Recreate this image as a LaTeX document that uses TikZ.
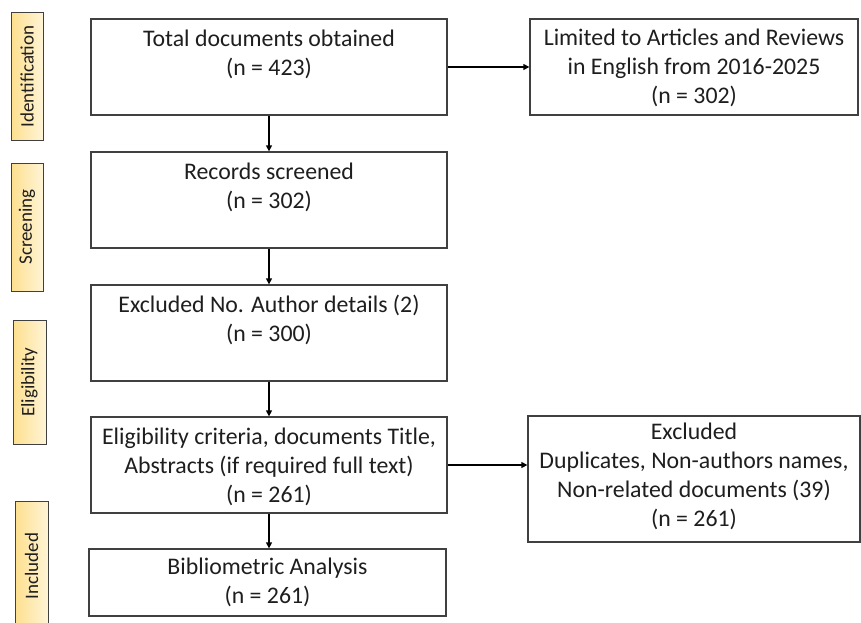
\documentclass[tikz,border=0pt]{standalone}
\usepackage{fontspec}
\setmainfont{Carlito}
\usetikzlibrary{arrows.meta}
\definecolor{edge}{HTML}{404040}
\definecolor{ink}{HTML}{1E1E1E}
\definecolor{goldL}{HTML}{FDDF8E}
\definecolor{goldR}{HTML}{FFF4D6}
\tikzset{
  x=1pt, y=-1pt,
  mainbox/.style={draw=edge, line width=1.3pt, fill=white},
  maintext/.style={text=ink, align=center, font={\fontsize{23.8}{29}\selectfont}, inner sep=0pt},
  stagebox/.style={draw=edge, line width=1pt, left color=goldL, right color=goldR},
  stagetext/.style={text=ink, rotate=90, font={\fontsize{19}{21}\selectfont}, inner sep=0pt},
  flow/.style={draw=black, line width=1.3pt, -{Triangle[length=6pt,width=6pt]}}
}
\begin{document}
\begin{tikzpicture}
\useasboundingbox (0,0) rectangle (861,623);
\clip (0,0) rectangle (861,623);
% stage labels
\path[stagebox] (11,13) rectangle (43,140);
\node[stagetext] (sId) at (27,76.5) {Identification};
\path[stagebox] (11,163) rectangle (43,291);
\node[stagetext] (sSc) at (27,227) {Screening};
\path[stagebox] (13,320) rectangle (46,444);
\node[stagetext] (sEl) at (29.5,382) {Eligibility};
\path[stagebox] (15,501) rectangle (48,632);
\node[stagetext] (sIn) at (31.5,566) {Included};
% main boxes
\node[mainbox, minimum width=356pt, minimum height=96pt, inner sep=0pt] (b1) at (269,67) {};
\node[maintext] (t1) at (269,54) {Total documents obtained\\(n = 423)};
\node[mainbox, minimum width=356pt, minimum height=96pt, inner sep=0pt] (b2) at (269,200) {};
\node[maintext] (t2) at (269,187) {Records screened\\(n = 302)};
\node[mainbox, minimum width=356pt, minimum height=96pt, inner sep=0pt] (b3) at (269,333) {};
\node[maintext] (t3) at (269,320) {Excluded No. Author details (2)\\(n = 300)};
\node[mainbox, minimum width=356pt, minimum height=96pt, inner sep=0pt] (b4) at (269,465) {};
\node[maintext] (t4) at (269,467) {Eligibility criteria, documents Title,\\Abstracts (if required full text)\\(n = 261)};
\node[mainbox, minimum width=357pt, minimum height=67pt, inner sep=0pt] (b5) at (267.5,582.5) {};
\node[maintext] (t5) at (267.5,582) {Bibliometric Analysis\\(n = 261)};
% right boxes
\node[mainbox, minimum width=328pt, minimum height=96pt, inner sep=0pt] (r1) at (694,67) {};
\node[maintext] (tr1) at (694,68) {Limited to Articles and Reviews\\in English from 2016-2025\\(n = 302)};
\node[mainbox, minimum width=332pt, minimum height=126pt, inner sep=0pt] (r2) at (694,479) {};
\node[maintext] (tr2) at (694,476) {Excluded\\Duplicates, Non-authors names,\\Non-related documents (39)\\(n = 261)};
% connectors
\draw[flow] (b1.south) -- (b2.north);
\draw[flow] (b2.south) -- (b3.north);
\draw[flow] (b3.south) -- (b4.north);
\draw[flow] (b4.south) -- (b4.south |- b5.north);
\draw[flow] (b1.east) -- (r1.west);
\draw[flow] (b4.east) -- (b4.east -| r2.west);
\end{tikzpicture}
\end{document}
